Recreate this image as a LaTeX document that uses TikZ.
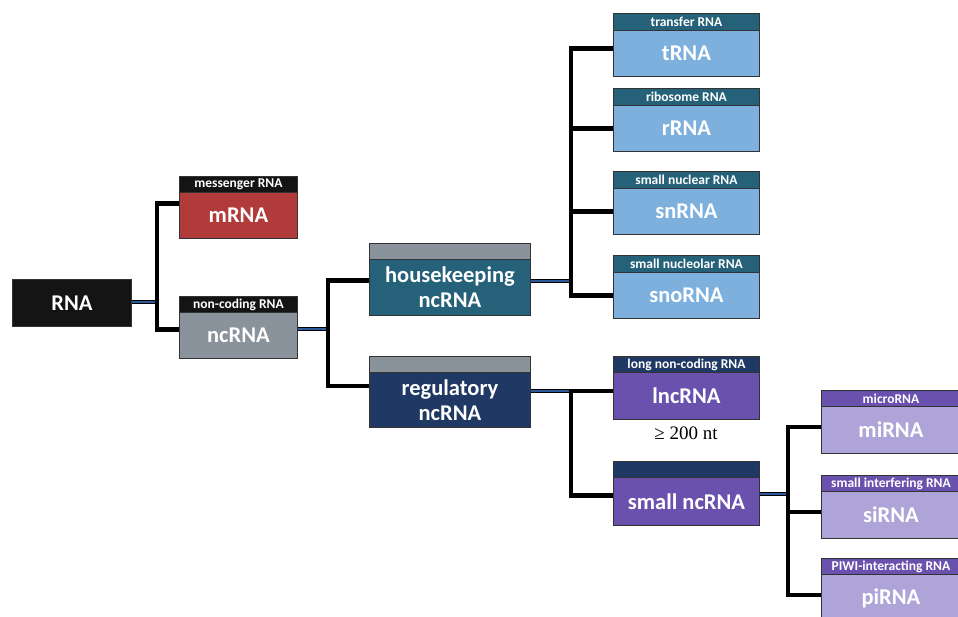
\documentclass[tikz,border=0pt]{standalone}
\usepackage{fontspec}
\setmainfont{Carlito}
\newfontfamily\serifnt{Liberation Serif}
\definecolor{cblack}{HTML}{141414}
\definecolor{cred}{HTML}{B13A3A}
\definecolor{cgray}{HTML}{8A929B}
\definecolor{cteal}{HTML}{256178}
\definecolor{cnavy}{HTML}{1F3864}
\definecolor{clblue}{HTML}{7EB0DE}
\definecolor{cpurple}{HTML}{6951AD}
\definecolor{clav}{HTML}{AFA4D7}
\definecolor{cstripe}{HTML}{2E5A9C}
\begin{document}
\begin{tikzpicture}[x=1pt,y=-1pt,
  box/.style={draw=black!80, line width=0.9pt, inner sep=0pt, anchor=north west, text=white, font=\bfseries},
  hdr/.style={box, font=\bfseries\fontsize{13.5}{14}\selectfont},
  bodyb/.style={box, font=\bfseries\fontsize{22.5}{25}\selectfont, align=center},
  conn/.style={draw=black, line width=4.5pt},
  stripe/.style={draw=cstripe, line width=1.4pt}
]
\useasboundingbox (0,0) rectangle (958,616);
\clip (0,0) rectangle (958,616);

% RNA
\node[bodyb, fill=cblack, minimum width=119pt, minimum height=47pt] (RNA) at (12,279) {RNA};

% mRNA
\node[hdr, fill=cblack, minimum width=118pt, minimum height=16pt] (mRNAh) at (179,176) {messenger RNA};
\node[bodyb, fill=cred, minimum width=118pt, minimum height=46pt] (mRNA) at (179,192) {mRNA};
% ncRNA
\node[hdr, fill=cblack, minimum width=118pt, minimum height=16pt] (ncRNAh) at (179,296) {non-coding RNA};
\node[bodyb, fill=cgray, minimum width=118pt, minimum height=46pt] (ncRNA) at (179,312) {ncRNA};

% housekeeping / regulatory
\node[hdr, fill=cgray, minimum width=161pt, minimum height=16pt] (hkh) at (369,243) {};
\node[bodyb, fill=cteal, minimum width=161pt, minimum height=56pt] (hk) at (369,259) {housekeeping\\ncRNA};
\node[hdr, fill=cgray, minimum width=161pt, minimum height=16pt] (regh) at (369,356) {};
\node[bodyb, fill=cnavy, minimum width=161pt, minimum height=55pt] (reg) at (369,372) {regulatory\\ncRNA};

% housekeeping children
\node[hdr, fill=cteal, minimum width=146pt, minimum height=17pt] (trnah) at (613,13) {transfer RNA};
\node[bodyb, fill=clblue, minimum width=146pt, minimum height=46pt] (trna) at (613,30) {tRNA};
\node[hdr, fill=cteal, minimum width=146pt, minimum height=17pt] (rrnah) at (613,88) {ribosome RNA};
\node[bodyb, fill=clblue, minimum width=146pt, minimum height=46pt] (rrna) at (613,105) {rRNA};
\node[hdr, fill=cteal, minimum width=146pt, minimum height=17pt] (snrnah) at (613,171) {small nuclear RNA};
\node[bodyb, fill=clblue, minimum width=146pt, minimum height=46pt] (snrna) at (613,188) {snRNA};
\node[hdr, fill=cteal, minimum width=146pt, minimum height=17pt] (snornah) at (613,255) {small nucleolar RNA};
\node[bodyb, fill=clblue, minimum width=146pt, minimum height=46pt] (snorna) at (613,272) {snoRNA};

% regulatory children
\node[hdr, fill=cnavy, minimum width=146pt, minimum height=16pt] (lnch) at (613,356) {long non-coding RNA};
\node[bodyb, fill=cpurple, minimum width=146pt, minimum height=47pt] (lnc) at (613,372) {lncRNA};
\node[font=\serifnt\fontsize{19}{21}\selectfont, anchor=center] (nt) at (686,433) {≥ 200 nt};
\node[hdr, fill=cnavy, minimum width=146pt, minimum height=16pt] (smallh) at (613,461) {};
\node[bodyb, fill=cpurple, minimum width=146pt, minimum height=48pt] (small) at (613,477) {small ncRNA};

% small children
\node[hdr, fill=cpurple, minimum width=139pt, minimum height=16pt] (mirnah) at (821,390) {microRNA};
\node[bodyb, fill=clav, minimum width=139pt, minimum height=47pt] (mirna) at (821,406) {miRNA};
\node[hdr, fill=cpurple, minimum width=139pt, minimum height=16pt] (sirnah) at (821,475) {small interfering RNA};
\node[bodyb, fill=clav, minimum width=139pt, minimum height=47pt] (sirna) at (821,491) {siRNA};
\node[hdr, fill=cpurple, minimum width=139pt, minimum height=16pt] (pirnah) at (821,558) {PIWI-interacting RNA};
\node[bodyb, fill=clav, minimum width=139pt, minimum height=47pt] (pirna) at (821,574) {piRNA};

% connectors
\coordinate (j1) at (157,302);
\draw[conn] (RNA.east |- j1) -- (j1);
\draw[stripe] (RNA.east |- j1) -- (j1);
\draw[conn] ([yshift=12pt]mRNA.west) -| (j1) |- ([yshift=6pt]ncRNA.west);

\coordinate (j2) at (328,329);
\draw[conn] (ncRNA.east |- j2) -- (j2);
\draw[stripe] (ncRNA.east |- j2) -- (j2);
\draw[conn] ([yshift=7pt]hk.west) -| (j2) |- ([yshift=14pt]reg.west);

\coordinate (j3) at (571,281);
\draw[conn] (hk.east |- j3) -- (j3);
\draw[stripe] (hk.east |- j3) -- (j3);
\draw[conn] ([yshift=5pt]trna.west) -| (j3);
\draw[conn] (rrna.west) -| (j3);
\draw[conn] (snrna.west) -| (j3);
\draw[conn] (snorna.west) -| (j3);

\coordinate (j4) at (571,391);
\draw[conn] (reg.east |- j4) -- (j4);
\draw[stripe] (reg.east |- j4) -- (j4);
\draw[conn] (lnc.west |- j4) -- (j4) |- ([yshift=6pt]small.west);

\coordinate (j5) at (788,494);
\draw[conn] (small.east |- j5) -- (j5);
\draw[stripe] (small.east |- j5) -- (j5);
\draw[conn] ([yshift=3pt]mirna.west) -| (j5);
\draw[conn] ([yshift=3pt]sirna.west) -| (j5);
\draw[conn] ([yshift=3pt]pirna.west) -| (j5);
\end{tikzpicture}
\end{document}
